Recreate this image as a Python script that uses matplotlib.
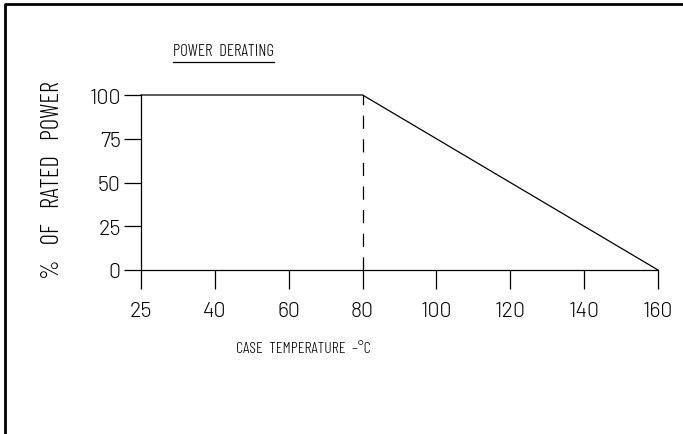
import numpy as np
import matplotlib
matplotlib.use('Agg')
import matplotlib.pyplot as plt
from matplotlib.lines import Line2D

# chart values
tick_temps = [25, 40, 60, 80, 100, 120, 140, 160]
tick_labels = ['25', '40', '60', '80', '100', '120', '140', '160']
power_ticks = [0, 25, 50, 75, 100]
derating_temps = [25, 80, 160]
derating_power = [100, 100, 0]
knee_temp = 80

W, H = 683, 435
plt.rcParams['font.family'] = 'Barlow'
plt.rcParams['font.weight'] = 300
TXT_FONT = 'Barlow Condensed'

fig = plt.figure(figsize=(W / 100, H / 100), dpi=100)
# axes box in pixels: x 141..658, y 96..271
ax = fig.add_axes([141 / W, 1 - 271 / H, (658 - 141) / W, (271 - 96) / H])

# the drawing puts the ticks evenly spaced, so map temperature -> tick slot
slots = np.arange(len(tick_temps))
def tpos(t):
    return np.interp(t, tick_temps, slots)

lw = 0.9
ax.plot(tpos(np.array(derating_temps)), derating_power, color='black', lw=lw, clip_on=False)
ax.plot([tpos(knee_temp)] * 2, [0, derating_power[1]], color='black', lw=lw,
        linestyle=(0, (9.5 / lw, 7.5 / lw)), clip_on=False)

ax.set_xlim(0, len(tick_temps) - 1)
ax.set_ylim(0, 100)
ax.set_xticks(slots, tick_labels)
ax.set_yticks(power_ticks)

for s in ['top', 'right']:
    ax.spines[s].set_visible(False)
for s in ['left', 'bottom']:
    ax.spines[s].set_linewidth(lw)
ax.tick_params(axis='x', direction='out', length=14, width=lw, pad=8.5, labelsize=15.5)
ax.tick_params(axis='y', direction='out', length=12.5, width=lw, pad=2, labelsize=15.5)
ax.patch.set_visible(False)

txt = dict(family=TXT_FONT, fontweight=300)
fig.text(303 / W, 1 - 349 / H, 'CASE  TEMPERATURE  \u2013\u00b0C', fontsize=11.5,
         ha='center', va='center', **txt)
fig.text(53 / W, 1 - 180 / H, '%   OF   RATED   POWER', fontsize=18, rotation=90,
         ha='center', va='center', **txt)

t = fig.text(173 / W, 1 - 56 / H, 'POWER  DERATING', fontsize=12, ha='left',
             va='baseline', **txt)
fig.canvas.draw()
bb = t.get_window_extent(fig.canvas.get_renderer())
fig.add_artist(Line2D([bb.x0 / W, bb.x1 / W], [(bb.y0 - 3) / H] * 2,
                      transform=fig.transFigure, color='black', lw=0.9))

# frame of the drawing sheet (left and top edges)
fig.add_artist(Line2D([5 / W, 5 / W, 1], [0, 1 - 5 / H, 1 - 5 / H],
                      transform=fig.transFigure, color='black', lw=2))

fig.savefig('out.png', dpi=100)
